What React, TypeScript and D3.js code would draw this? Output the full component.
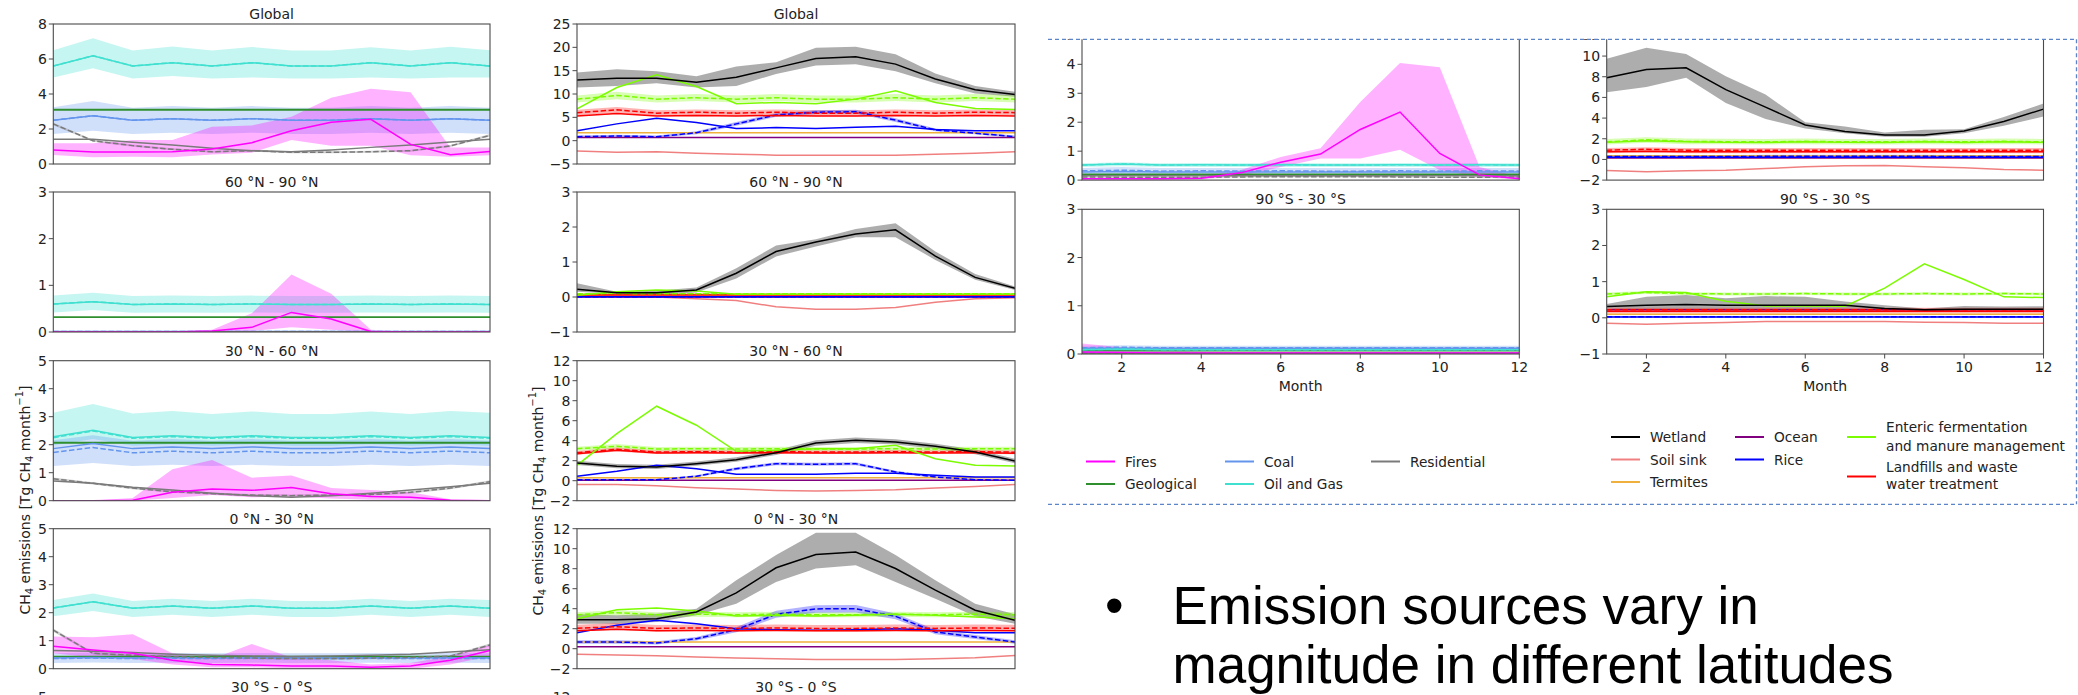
import React from 'react';
import * as d3 from 'd3';

const MONTHS = [1, 2, 3, 4, 5, 6, 7, 8, 9, 10, 11, 12];
const X_TICKS = [2, 4, 6, 8, 10, 12];

const TITLES_AB = ['Global', '60 °N - 90 °N', '30 °N - 60 °N', '0 °N - 30 °N', '30 °S - 0 °S'];
const TITLES_CD = ['', '90 °S - 30 °S'];

// ---------- Figure A (fires, geological, fossil, residential) ----------
// Global
const A0_FIRES = [0.8, 0.69, 0.69, 0.7, 0.86, 1.22, 1.9, 2.38, 2.55, 1.12, 0.53, 0.72];
const A0_FIRES_LO = [0.51, 0.38, 0.42, 0.38, 0.55, 0.65, 1.37, 1.05, 1.05, 0.5, 0.42, 0.5];
const A0_FIRES_HI = [1.18, 1.18, 1.37, 1.37, 2.13, 2.2, 2.7, 3.79, 4.3, 4.1, 0.95, 0.95];
const A0_GEO = [3.1, 3.1, 3.1, 3.1, 3.1, 3.1, 3.1, 3.1, 3.1, 3.1, 3.1, 3.1];
const A0_COAL = [2.5, 2.76, 2.5, 2.59, 2.5, 2.59, 2.5, 2.5, 2.59, 2.5, 2.59, 2.5];
const A0_COAL_D = [2.5, 2.76, 2.5, 2.59, 2.5, 2.59, 2.5, 2.5, 2.59, 2.5, 2.59, 2.5];
const A0_COAL_LO = [1.71, 1.9, 1.71, 1.79, 1.71, 1.79, 1.71, 1.71, 1.79, 1.71, 1.79, 1.71];
const A0_COAL_HI = [3.24, 3.6, 3.22, 3.31, 3.22, 3.31, 3.22, 3.22, 3.31, 3.22, 3.31, 3.22];
const A0_OG = [5.6, 6.19, 5.6, 5.79, 5.6, 5.79, 5.6, 5.6, 5.79, 5.6, 5.79, 5.6];
const A0_OG_D = [5.6, 6.19, 5.6, 5.79, 5.6, 5.79, 5.6, 5.6, 5.79, 5.6, 5.79, 5.6];
const A0_OG_LO = [4.95, 5.47, 4.88, 5.03, 4.88, 4.95, 4.88, 4.88, 4.95, 4.88, 4.95, 4.95];
const A0_OG_HI = [6.5, 7.18, 6.48, 6.72, 6.48, 6.69, 6.48, 6.48, 6.67, 6.48, 6.7, 6.5];
const A0_RES = [1.41, 1.41, 1.24, 1.09, 0.9, 0.76, 0.7, 0.8, 0.95, 1.09, 1.26, 1.41];
const A0_RES_D = [2.29, 1.33, 1.05, 0.84, 0.7, 0.76, 0.67, 0.67, 0.7, 0.76, 1.03, 1.64];
const A0_RES_LO = [2.22, 1.27, 0.99, 0.78, 0.64, 0.7, 0.61, 0.61, 0.64, 0.7, 0.97, 1.57];
const A0_RES_HI = [2.36, 1.39, 1.11, 0.9, 0.76, 0.82, 0.73, 0.73, 0.76, 0.82, 1.09, 1.71];
// 60N-90N
const A1_FIRES = [0, 0, 0, 0, 0.02, 0.1, 0.42, 0.28, 0.01, 0, 0, 0];
const A1_FIRES_LO = [0, 0, 0, 0, 0, 0.02, 0.1, 0.05, 0, 0, 0, 0];
const A1_FIRES_HI = [0, 0, 0, 0, 0.05, 0.4, 1.23, 0.82, 0.05, 0, 0, 0];
const A1_GEO = [0.32, 0.32, 0.32, 0.32, 0.32, 0.32, 0.32, 0.32, 0.32, 0.32, 0.32, 0.32];
const A1_COAL = [0.01, 0.01, 0.01, 0.01, 0.01, 0.01, 0.01, 0.01, 0.01, 0.01, 0.01, 0.01];
const A1_COAL_D = [0.01, 0.01, 0.01, 0.01, 0.01, 0.01, 0.01, 0.01, 0.01, 0.01, 0.01, 0.01];
const A1_COAL_LO = [0, 0, 0, 0, 0, 0, 0, 0, 0, 0, 0, 0];
const A1_COAL_HI = [0.02, 0.02, 0.02, 0.02, 0.02, 0.02, 0.02, 0.02, 0.02, 0.02, 0.02, 0.02];
const A1_OG = [0.6, 0.65, 0.59, 0.6, 0.59, 0.6, 0.59, 0.59, 0.6, 0.59, 0.6, 0.59];
const A1_OG_D = [0.6, 0.65, 0.59, 0.6, 0.59, 0.6, 0.59, 0.59, 0.6, 0.59, 0.6, 0.59];
const A1_OG_LO = [0.42, 0.47, 0.41, 0.42, 0.41, 0.42, 0.41, 0.41, 0.42, 0.41, 0.42, 0.41];
const A1_OG_HI = [0.78, 0.84, 0.77, 0.78, 0.77, 0.78, 0.77, 0.77, 0.78, 0.77, 0.78, 0.77];
const A1_RES = [0.005, 0.005, 0.005, 0.005, 0.005, 0.005, 0.005, 0.005, 0.005, 0.005, 0.005, 0.005];
const A1_RES_D = [0.005, 0.005, 0.005, 0.005, 0.005, 0.005, 0.005, 0.005, 0.005, 0.005, 0.005, 0.005];
const A1_RES_LO = [0, 0, 0, 0, 0, 0, 0, 0, 0, 0, 0, 0];
const A1_RES_HI = [0.01, 0.01, 0.01, 0.01, 0.01, 0.01, 0.01, 0.01, 0.01, 0.01, 0.01, 0.01];
// 30N-60N
const A2_FIRES = [0, 0, 0.02, 0.3, 0.42, 0.37, 0.47, 0.25, 0.15, 0.12, 0.02, 0];
const A2_FIRES_LO = [0, 0, 0, 0.1, 0.2, 0.12, 0.15, 0.08, 0.03, 0.02, 0, 0];
const A2_FIRES_HI = [0, 0.01, 0.1, 1.12, 1.45, 0.82, 0.9, 0.45, 0.38, 0.3, 0.05, 0];
const A2_GEO = [2.07, 2.07, 2.07, 2.07, 2.07, 2.07, 2.07, 2.07, 2.07, 2.07, 2.07, 2.07];
const A2_COAL = [1.86, 2.04, 1.86, 1.92, 1.86, 1.92, 1.86, 1.86, 1.92, 1.86, 1.92, 1.86];
const A2_COAL_D = [1.72, 1.9, 1.71, 1.77, 1.71, 1.77, 1.71, 1.71, 1.77, 1.71, 1.77, 1.71];
const A2_COAL_LO = [1.24, 1.35, 1.24, 1.28, 1.24, 1.28, 1.24, 1.24, 1.28, 1.24, 1.28, 1.24];
const A2_COAL_HI = [2.16, 2.34, 2.14, 2.2, 2.14, 2.2, 2.14, 2.14, 2.2, 2.14, 2.2, 2.14];
const A2_OG = [2.28, 2.52, 2.26, 2.32, 2.26, 2.32, 2.26, 2.26, 2.32, 2.26, 2.32, 2.26];
const A2_OG_D = [2.25, 2.49, 2.23, 2.29, 2.23, 2.29, 2.23, 2.23, 2.29, 2.23, 2.29, 2.23];
const A2_OG_LO = [1.98, 2.2, 1.96, 2.02, 1.96, 2.02, 1.96, 1.96, 2.02, 1.96, 2.02, 1.96];
const A2_OG_HI = [3.14, 3.45, 3.11, 3.2, 3.1, 3.19, 3.1, 3.1, 3.19, 3.1, 3.2, 3.14];
const A2_RES = [0.7, 0.62, 0.48, 0.38, 0.27, 0.18, 0.12, 0.18, 0.27, 0.38, 0.5, 0.62];
const A2_RES_D = [0.78, 0.62, 0.45, 0.32, 0.25, 0.2, 0.18, 0.2, 0.22, 0.3, 0.45, 0.68];
const A2_RES_LO = [0.73, 0.58, 0.41, 0.28, 0.21, 0.16, 0.14, 0.16, 0.18, 0.26, 0.41, 0.63];
const A2_RES_HI = [0.83, 0.66, 0.49, 0.36, 0.29, 0.24, 0.22, 0.24, 0.26, 0.34, 0.49, 0.73];
// 0N-30N
const A3_FIRES = [0.8, 0.67, 0.55, 0.3, 0.15, 0.13, 0.1, 0.1, 0.05, 0.1, 0.3, 0.65];
const A3_FIRES_LO = [0.55, 0.4, 0.35, 0.15, 0.05, 0.05, 0.02, 0, 0, 0, 0.15, 0.45];
const A3_FIRES_HI = [1.15, 1.12, 1.23, 0.55, 0.35, 0.88, 0.4, 0.3, 0.15, 0.2, 0.45, 0.85];
const A3_GEO = [0.43, 0.43, 0.43, 0.43, 0.43, 0.43, 0.43, 0.43, 0.43, 0.43, 0.43, 0.43];
const A3_COAL = [0.38, 0.4, 0.38, 0.39, 0.38, 0.39, 0.38, 0.38, 0.39, 0.38, 0.39, 0.38];
const A3_COAL_D = [0.36, 0.38, 0.36, 0.37, 0.36, 0.37, 0.36, 0.36, 0.37, 0.36, 0.37, 0.36];
const A3_COAL_LO = [0.2, 0.22, 0.2, 0.21, 0.2, 0.21, 0.2, 0.2, 0.21, 0.2, 0.21, 0.2];
const A3_COAL_HI = [0.55, 0.58, 0.55, 0.56, 0.55, 0.56, 0.55, 0.55, 0.56, 0.55, 0.56, 0.55];
const A3_OG = [2.17, 2.39, 2.16, 2.24, 2.16, 2.24, 2.16, 2.16, 2.24, 2.16, 2.24, 2.16];
const A3_OG_D = [2.17, 2.39, 2.16, 2.24, 2.16, 2.24, 2.16, 2.16, 2.24, 2.16, 2.24, 2.16];
const A3_OG_LO = [1.87, 2.06, 1.85, 1.93, 1.85, 1.93, 1.85, 1.85, 1.93, 1.85, 1.93, 1.85];
const A3_OG_HI = [2.45, 2.69, 2.42, 2.5, 2.42, 2.5, 2.42, 2.42, 2.5, 2.42, 2.5, 2.45];
const A3_RES = [0.65, 0.62, 0.58, 0.52, 0.48, 0.45, 0.44, 0.45, 0.48, 0.52, 0.6, 0.68];
const A3_RES_D = [1.38, 0.55, 0.48, 0.43, 0.4, 0.38, 0.36, 0.36, 0.38, 0.4, 0.45, 0.85];
const A3_RES_LO = [1.32, 0.51, 0.44, 0.39, 0.36, 0.34, 0.32, 0.32, 0.34, 0.36, 0.41, 0.8];
const A3_RES_HI = [1.44, 0.59, 0.52, 0.47, 0.44, 0.42, 0.4, 0.4, 0.42, 0.44, 0.49, 0.9];
// 30S-0S
const A4_FIRES = [0.05, 0.05, 0.05, 0.06, 0.25, 0.62, 0.9, 1.75, 2.35, 0.92, 0.18, 0.05];
const A4_FIRES_LO = [0.02, 0.02, 0.02, 0.02, 0.15, 0.45, 0.75, 0.75, 1.05, 0.35, 0.1, 0.02];
const A4_FIRES_HI = [0.08, 0.08, 0.08, 0.1, 0.35, 0.8, 1.1, 2.7, 4.05, 3.9, 0.45, 0.12];
const A4_GEO = [0.2, 0.2, 0.2, 0.2, 0.2, 0.2, 0.2, 0.2, 0.2, 0.2, 0.2, 0.2];
const A4_COAL = [0.28, 0.3, 0.28, 0.28, 0.28, 0.28, 0.28, 0.28, 0.28, 0.28, 0.28, 0.28];
const A4_COAL_D = [0.32, 0.34, 0.31, 0.32, 0.31, 0.32, 0.31, 0.31, 0.32, 0.31, 0.32, 0.31];
const A4_COAL_LO = [0.15, 0.16, 0.15, 0.15, 0.15, 0.15, 0.15, 0.15, 0.15, 0.15, 0.15, 0.15];
const A4_COAL_HI = [0.42, 0.45, 0.42, 0.42, 0.42, 0.42, 0.42, 0.42, 0.42, 0.42, 0.42, 0.42];
const A4_OG = [0.52, 0.56, 0.52, 0.53, 0.52, 0.53, 0.52, 0.52, 0.53, 0.52, 0.53, 0.52];
const A4_OG_D = [0.52, 0.56, 0.52, 0.53, 0.52, 0.53, 0.52, 0.52, 0.53, 0.52, 0.53, 0.52];
const A4_OG_LO = [0.45, 0.48, 0.45, 0.45, 0.45, 0.45, 0.45, 0.45, 0.45, 0.45, 0.45, 0.45];
const A4_OG_HI = [0.58, 0.62, 0.58, 0.59, 0.58, 0.59, 0.58, 0.58, 0.59, 0.58, 0.59, 0.58];
const A4_RES = [0.15, 0.15, 0.15, 0.15, 0.15, 0.15, 0.15, 0.15, 0.15, 0.15, 0.15, 0.15];
const A4_RES_D = [0.11, 0.1, 0.1, 0.1, 0.11, 0.12, 0.12, 0.12, 0.11, 0.1, 0.1, 0.11];
const A4_RES_LO = [0.09, 0.08, 0.08, 0.08, 0.09, 0.1, 0.1, 0.1, 0.09, 0.08, 0.08, 0.09];
const A4_RES_HI = [0.13, 0.12, 0.12, 0.12, 0.13, 0.14, 0.14, 0.14, 0.13, 0.12, 0.12, 0.13];
// 90S-30S
const A5_FIRES = [0.04, 0.03, 0.02, 0.02, 0.02, 0.02, 0.02, 0.02, 0.02, 0.02, 0.02, 0.02];
const A5_FIRES_LO = [0, 0, 0, 0, 0, 0, 0, 0, 0, 0, 0, 0];
const A5_FIRES_HI = [0.22, 0.14, 0.08, 0.05, 0.04, 0.04, 0.04, 0.04, 0.04, 0.04, 0.04, 0.04];
const A5_GEO = [0.07, 0.07, 0.07, 0.07, 0.07, 0.07, 0.07, 0.07, 0.07, 0.07, 0.07, 0.07];
const A5_COAL = [0.12, 0.12, 0.12, 0.12, 0.12, 0.12, 0.12, 0.12, 0.12, 0.12, 0.12, 0.12];
const A5_COAL_D = [0.13, 0.14, 0.13, 0.13, 0.13, 0.13, 0.13, 0.13, 0.13, 0.13, 0.13, 0.13];
const A5_COAL_LO = [0.08, 0.08, 0.08, 0.08, 0.08, 0.08, 0.08, 0.08, 0.08, 0.08, 0.08, 0.08];
const A5_COAL_HI = [0.17, 0.18, 0.17, 0.17, 0.17, 0.17, 0.17, 0.17, 0.17, 0.17, 0.17, 0.17];
const A5_OG = [0.09, 0.1, 0.09, 0.09, 0.09, 0.09, 0.09, 0.09, 0.09, 0.09, 0.09, 0.09];
const A5_OG_D = [0.09, 0.1, 0.09, 0.09, 0.09, 0.09, 0.09, 0.09, 0.09, 0.09, 0.09, 0.09];
const A5_OG_LO = [0.07, 0.08, 0.07, 0.07, 0.07, 0.07, 0.07, 0.07, 0.07, 0.07, 0.07, 0.07];
const A5_OG_HI = [0.11, 0.12, 0.11, 0.11, 0.11, 0.11, 0.11, 0.11, 0.11, 0.11, 0.11, 0.11];
const A5_RES = [0.02, 0.02, 0.02, 0.02, 0.02, 0.02, 0.02, 0.02, 0.02, 0.02, 0.02, 0.02];
const A5_RES_D = [0.02, 0.02, 0.02, 0.02, 0.02, 0.02, 0.02, 0.02, 0.02, 0.02, 0.02, 0.02];
const A5_RES_LO = [0.01, 0.01, 0.01, 0.01, 0.01, 0.01, 0.01, 0.01, 0.01, 0.01, 0.01, 0.01];
const A5_RES_HI = [0.03, 0.03, 0.03, 0.03, 0.03, 0.03, 0.03, 0.03, 0.03, 0.03, 0.03, 0.03];

// ---------- Figure B (wetland, soil, termites, ocean, rice, enteric, landfills) ----------
// Global
const B0_WET = [13.0, 13.4, 13.4, 12.5, 13.6, 15.6, 17.6, 18.0, 16.4, 13.2, 10.9, 9.9];
const B0_WET_LO = [11.4, 11.7, 12.3, 11.4, 11.7, 14.3, 16.1, 16.4, 14.9, 12.3, 10.1, 9.4];
const B0_WET_HI = [14.6, 15.3, 14.9, 13.8, 15.9, 16.8, 19.9, 20.1, 18.5, 14.4, 11.7, 10.5];
const B0_SOIL = [-2.2, -2.5, -2.4, -2.7, -2.9, -3.1, -3.1, -3.1, -3.1, -2.9, -2.7, -2.4];
const B0_TERM = [1.7, 1.7, 1.7, 1.7, 1.7, 1.7, 1.7, 1.7, 1.7, 1.7, 1.7, 1.7];
const B0_OCEAN = [0.7, 0.7, 0.7, 0.7, 0.7, 0.7, 0.7, 0.7, 0.7, 0.7, 0.7, 0.7];
const B0_RICE = [2.1, 3.6, 4.8, 3.9, 2.6, 2.8, 2.6, 2.9, 3.1, 2.4, 2.1, 2.1];
const B0_RICE_D = [0.85, 1.0, 0.85, 1.7, 3.6, 5.5, 6.1, 6.2, 4.4, 2.3, 1.6, 0.85];
const B0_RICE_LO = [0.6, 0.75, 0.6, 1.4, 3.2, 5.1, 5.7, 5.8, 4.0, 2.0, 1.35, 0.6];
const B0_RICE_HI = [1.1, 1.25, 1.1, 2.0, 4.0, 5.9, 6.5, 6.6, 4.8, 2.6, 1.85, 1.1];
const B0_ENT = [6.8, 11.4, 14.1, 11.6, 7.9, 8.2, 7.9, 8.9, 10.7, 8.2, 6.9, 6.7];
const B0_ENT_D = [8.9, 9.7, 8.9, 9.2, 8.9, 9.2, 8.9, 8.9, 9.2, 8.9, 9.2, 8.9];
const B0_ENT_LO = [8.2, 8.9, 8.2, 8.5, 8.2, 8.5, 8.2, 8.2, 8.5, 8.2, 8.5, 8.2];
const B0_ENT_HI = [9.7, 10.5, 9.7, 10.0, 9.7, 10.0, 9.7, 9.7, 10.0, 9.7, 10.0, 9.7];
const B0_LAND = [5.3, 5.8, 5.3, 5.4, 5.3, 5.4, 5.3, 5.3, 5.4, 5.3, 5.4, 5.3];
const B0_LAND_D = [6.0, 6.6, 5.9, 6.1, 5.9, 6.1, 5.9, 5.9, 6.1, 5.9, 6.1, 6.0];
const B0_LAND_LO = [5.4, 6.0, 5.3, 5.5, 5.3, 5.5, 5.3, 5.3, 5.5, 5.3, 5.5, 5.4];
const B0_LAND_HI = [6.6, 7.2, 6.5, 6.7, 6.5, 6.7, 6.5, 6.5, 6.7, 6.5, 6.7, 6.6];
// 60N-90N
const B1_WET = [0.22, 0.12, 0.12, 0.2, 0.68, 1.3, 1.57, 1.8, 1.92, 1.17, 0.56, 0.25];
const B1_WET_LO = [0.15, 0.09, 0.07, 0.13, 0.53, 1.16, 1.44, 1.71, 1.71, 1.06, 0.49, 0.2];
const B1_WET_HI = [0.39, 0.15, 0.18, 0.27, 0.82, 1.47, 1.65, 1.94, 2.11, 1.3, 0.66, 0.3];
const B1_SOIL = [0.03, 0.02, 0, -0.05, -0.1, -0.28, -0.35, -0.35, -0.3, -0.15, -0.05, -0.02];
const B1_TERM = [0.02, 0.02, 0.02, 0.02, 0.02, 0.02, 0.02, 0.02, 0.02, 0.02, 0.02, 0.02];
const B1_OCEAN = [0, 0, 0, 0, 0, 0, 0, 0, 0, 0, 0, 0];
const B1_RICE = [0.01, 0.01, 0.01, 0.01, 0.01, 0.01, 0.01, 0.01, 0.01, 0.01, 0.01, 0.01];
const B1_RICE_D = [0.01, 0.01, 0.01, 0.01, 0.01, 0.01, 0.01, 0.01, 0.01, 0.01, 0.01, 0.01];
const B1_RICE_LO = [0, 0, 0, 0, 0, 0, 0, 0, 0, 0, 0, 0];
const B1_RICE_HI = [0.02, 0.02, 0.02, 0.02, 0.02, 0.02, 0.02, 0.02, 0.02, 0.02, 0.02, 0.02];
const B1_ENT = [0.05, 0.15, 0.2, 0.17, 0.08, 0.08, 0.08, 0.08, 0.08, 0.08, 0.08, 0.08];
const B1_ENT_D = [0.09, 0.1, 0.09, 0.09, 0.09, 0.09, 0.09, 0.09, 0.09, 0.09, 0.09, 0.09];
const B1_ENT_LO = [0.07, 0.08, 0.07, 0.07, 0.07, 0.07, 0.07, 0.07, 0.07, 0.07, 0.07, 0.07];
const B1_ENT_HI = [0.11, 0.12, 0.11, 0.11, 0.11, 0.11, 0.11, 0.11, 0.11, 0.11, 0.11, 0.11];
const B1_LAND = [0.06, 0.06, 0.06, 0.06, 0.06, 0.06, 0.06, 0.06, 0.06, 0.06, 0.06, 0.06];
const B1_LAND_D = [0.08, 0.08, 0.08, 0.08, 0.08, 0.08, 0.08, 0.08, 0.08, 0.08, 0.08, 0.08];
const B1_LAND_LO = [0.05, 0.05, 0.05, 0.05, 0.05, 0.05, 0.05, 0.05, 0.05, 0.05, 0.05, 0.05];
const B1_LAND_HI = [0.1, 0.1, 0.1, 0.1, 0.1, 0.1, 0.1, 0.1, 0.1, 0.1, 0.1, 0.1];
// 30N-60N
const B2_WET = [1.77, 1.44, 1.37, 1.7, 2.1, 2.8, 3.77, 4.04, 3.87, 3.44, 2.87, 1.97];
const B2_WET_LO = [1.57, 1.25, 1.18, 1.5, 1.9, 2.58, 3.5, 3.78, 3.62, 3.2, 2.65, 1.75];
const B2_WET_HI = [2.0, 1.66, 1.6, 1.93, 2.35, 3.05, 4.05, 4.33, 4.15, 3.7, 3.12, 2.2];
const B2_SOIL = [-0.37, -0.37, -0.5, -0.7, -0.83, -0.97, -1.03, -0.97, -0.9, -0.73, -0.57, -0.37];
const B2_TERM = [0.3, 0.3, 0.3, 0.3, 0.3, 0.3, 0.3, 0.3, 0.3, 0.3, 0.3, 0.3];
const B2_OCEAN = [0.05, 0.05, 0.05, 0.05, 0.05, 0.05, 0.05, 0.05, 0.05, 0.05, 0.05, 0.05];
const B2_RICE = [0.44, 0.94, 1.54, 1.2, 0.64, 0.64, 0.64, 0.74, 0.74, 0.54, 0.37, 0.37];
const B2_RICE_D = [0.1, 0.1, 0.1, 0.44, 1.2, 1.7, 1.64, 1.7, 0.87, 0.37, 0.1, 0.04];
const B2_RICE_LO = [0.0, 0.0, 0.0, 0.34, 1.05, 1.55, 1.5, 1.55, 0.75, 0.27, 0.0, -0.04];
const B2_RICE_HI = [0.2, 0.2, 0.2, 0.54, 1.35, 1.85, 1.8, 1.85, 1.0, 0.47, 0.2, 0.12];
const B2_ENT = [1.54, 4.7, 7.45, 5.55, 2.94, 3.04, 3.2, 3.2, 3.54, 2.2, 1.54, 1.47];
const B2_ENT_D = [3.2, 3.44, 3.17, 3.2, 3.17, 3.2, 3.17, 3.17, 3.2, 3.17, 3.2, 3.2];
const B2_ENT_LO = [3.0, 3.22, 2.97, 3.0, 2.97, 3.0, 2.97, 2.97, 3.0, 2.97, 3.0, 3.0];
const B2_ENT_HI = [3.4, 3.66, 3.37, 3.4, 3.37, 3.4, 3.37, 3.37, 3.4, 3.37, 3.4, 3.4];
const B2_LAND = [2.7, 3.04, 2.77, 2.8, 2.77, 2.8, 2.77, 2.77, 2.8, 2.77, 2.8, 2.75];
const B2_LAND_D = [2.8, 3.14, 2.87, 2.9, 2.87, 2.9, 2.87, 2.87, 2.9, 2.87, 2.9, 2.85];
const B2_LAND_LO = [2.6, 2.92, 2.66, 2.7, 2.66, 2.7, 2.66, 2.66, 2.7, 2.66, 2.7, 2.64];
const B2_LAND_HI = [2.97, 3.32, 3.03, 3.07, 3.03, 3.07, 3.03, 3.03, 3.07, 3.03, 3.07, 3.02];
// 0N-30N
const B3_WET = [2.9, 2.9, 3.0, 3.67, 5.58, 8.09, 9.42, 9.66, 8.02, 5.85, 3.85, 2.84];
const B3_WET_LO = [2.5, 2.5, 2.67, 3.34, 4.5, 6.68, 8.02, 8.35, 6.68, 5.0, 3.24, 2.5];
const B3_WET_HI = [3.44, 3.34, 3.5, 4.0, 6.85, 9.36, 11.6, 11.6, 9.36, 6.85, 4.5, 3.44];
const B3_SOIL = [-0.56, -0.63, -0.7, -0.84, -0.94, -1.0, -1.07, -1.07, -1.07, -1.0, -0.9, -0.67];
const B3_TERM = [0.67, 0.67, 0.67, 0.67, 0.67, 0.67, 0.67, 0.67, 0.67, 0.67, 0.67, 0.67];
const B3_OCEAN = [0.2, 0.2, 0.2, 0.2, 0.2, 0.2, 0.2, 0.2, 0.2, 0.2, 0.2, 0.2];
const B3_RICE = [1.6, 2.34, 2.84, 2.5, 2.0, 1.9, 1.84, 1.9, 2.0, 1.84, 1.6, 1.6];
const B3_RICE_D = [0.67, 0.67, 0.57, 1.0, 1.9, 3.44, 3.98, 4.0, 3.24, 1.67, 1.17, 0.67];
const B3_RICE_LO = [0.5, 0.5, 0.42, 0.82, 1.65, 3.1, 3.6, 3.62, 2.95, 1.45, 0.98, 0.5];
const B3_RICE_HI = [0.85, 0.85, 0.74, 1.18, 2.15, 3.8, 4.35, 4.38, 3.52, 1.9, 1.36, 0.85];
const B3_ENT = [3.0, 3.9, 4.07, 3.77, 3.27, 3.34, 3.27, 3.34, 3.44, 3.34, 3.17, 3.0];
const B3_ENT_D = [3.4, 3.6, 3.4, 3.45, 3.4, 3.45, 3.4, 3.4, 3.45, 3.4, 3.45, 3.4];
const B3_ENT_LO = [3.15, 3.35, 3.15, 3.2, 3.15, 3.2, 3.15, 3.15, 3.2, 3.15, 3.2, 3.15];
const B3_ENT_HI = [3.65, 3.85, 3.65, 3.7, 3.65, 3.7, 3.65, 3.65, 3.7, 3.65, 3.7, 3.65];
const B3_LAND = [1.8, 1.95, 1.8, 1.82, 1.8, 1.82, 1.8, 1.8, 1.82, 1.8, 1.82, 1.8];
const B3_LAND_D = [2.05, 2.2, 2.03, 2.07, 2.03, 2.07, 2.03, 2.03, 2.07, 2.03, 2.07, 2.05];
const B3_LAND_LO = [1.75, 1.88, 1.73, 1.77, 1.73, 1.77, 1.73, 1.73, 1.77, 1.73, 1.77, 1.75];
const B3_LAND_HI = [2.4, 2.56, 2.38, 2.42, 2.38, 2.42, 2.38, 2.38, 2.42, 2.38, 2.42, 2.4];
// 30S-0S
const B4_WET = [7.9, 8.7, 8.86, 6.75, 5.06, 3.34, 2.7, 2.37, 2.37, 2.76, 3.67, 4.87];
const B4_WET_LO = [6.5, 7.0, 7.9, 5.45, 3.9, 3.0, 2.53, 2.2, 2.2, 2.53, 3.25, 4.15];
const B4_WET_HI = [9.74, 10.8, 10.2, 8.05, 6.27, 3.6, 3.18, 2.6, 2.86, 2.92, 4.1, 5.4];
const B4_SOIL = [-1.07, -1.2, -1.1, -1.04, -0.88, -0.71, -0.62, -0.58, -0.71, -0.81, -0.97, -1.04];
const B4_TERM = [0.35, 0.35, 0.35, 0.35, 0.35, 0.35, 0.35, 0.35, 0.35, 0.35, 0.35, 0.35];
const B4_OCEAN = [0.15, 0.15, 0.15, 0.15, 0.15, 0.15, 0.15, 0.15, 0.15, 0.15, 0.15, 0.15];
const B4_RICE = [0.22, 0.22, 0.22, 0.22, 0.22, 0.22, 0.22, 0.22, 0.22, 0.22, 0.22, 0.22];
const B4_RICE_D = [0.28, 0.28, 0.28, 0.28, 0.3, 0.3, 0.3, 0.3, 0.3, 0.28, 0.28, 0.28];
const B4_RICE_LO = [0.14, 0.14, 0.14, 0.14, 0.15, 0.15, 0.15, 0.15, 0.15, 0.14, 0.14, 0.14];
const B4_RICE_HI = [0.42, 0.42, 0.42, 0.42, 0.45, 0.45, 0.45, 0.45, 0.45, 0.42, 0.42, 0.42];
const B4_ENT = [1.65, 1.8, 1.7, 1.65, 1.65, 1.7, 1.65, 1.65, 1.7, 1.65, 1.7, 1.65];
const B4_ENT_D = [1.7, 1.9, 1.75, 1.72, 1.7, 1.75, 1.7, 1.7, 1.75, 1.7, 1.75, 1.7];
const B4_ENT_LO = [1.45, 1.62, 1.48, 1.46, 1.45, 1.48, 1.45, 1.45, 1.48, 1.45, 1.48, 1.45];
const B4_ENT_HI = [1.98, 2.15, 2.02, 1.99, 1.98, 2.02, 1.98, 1.98, 2.02, 1.98, 2.02, 1.98];
const B4_LAND = [0.75, 0.8, 0.75, 0.75, 0.75, 0.75, 0.75, 0.75, 0.75, 0.75, 0.75, 0.75];
const B4_LAND_D = [0.9, 0.98, 0.9, 0.9, 0.9, 0.9, 0.9, 0.9, 0.9, 0.9, 0.9, 0.9];
const B4_LAND_LO = [0.6, 0.66, 0.6, 0.6, 0.6, 0.6, 0.6, 0.6, 0.6, 0.6, 0.6, 0.6];
const B4_LAND_HI = [1.1, 1.18, 1.1, 1.1, 1.1, 1.1, 1.1, 1.1, 1.1, 1.1, 1.1, 1.1];
// 90S-30S
const B5_WET = [0.31, 0.35, 0.37, 0.35, 0.35, 0.35, 0.35, 0.26, 0.22, 0.24, 0.24, 0.24];
const B5_WET_LO = [0.25, 0.22, 0.2, 0.2, 0.2, 0.2, 0.2, 0.2, 0.18, 0.2, 0.2, 0.2];
const B5_WET_HI = [0.38, 0.58, 0.63, 0.54, 0.6, 0.58, 0.45, 0.35, 0.26, 0.33, 0.31, 0.32];
const B5_SOIL = [-0.15, -0.18, -0.15, -0.13, -0.1, -0.1, -0.1, -0.1, -0.12, -0.13, -0.15, -0.15];
const B5_TERM = [0.1, 0.1, 0.1, 0.1, 0.1, 0.1, 0.1, 0.1, 0.1, 0.1, 0.1, 0.1];
const B5_OCEAN = [0.22, 0.22, 0.22, 0.22, 0.22, 0.22, 0.22, 0.22, 0.22, 0.22, 0.22, 0.22];
const B5_RICE = [0.02, 0.02, 0.02, 0.02, 0.02, 0.02, 0.02, 0.02, 0.02, 0.02, 0.02, 0.02];
const B5_RICE_D = [0.03, 0.03, 0.03, 0.03, 0.03, 0.03, 0.03, 0.03, 0.03, 0.03, 0.03, 0.03];
const B5_RICE_LO = [0.01, 0.01, 0.01, 0.01, 0.01, 0.01, 0.01, 0.01, 0.01, 0.01, 0.01, 0.01];
const B5_RICE_HI = [0.05, 0.05, 0.05, 0.05, 0.05, 0.05, 0.05, 0.05, 0.05, 0.05, 0.05, 0.05];
const B5_ENT = [0.58, 0.72, 0.7, 0.46, 0.33, 0.33, 0.32, 0.82, 1.49, 1.06, 0.58, 0.56];
const B5_ENT_D = [0.66, 0.7, 0.67, 0.66, 0.66, 0.67, 0.66, 0.66, 0.67, 0.66, 0.67, 0.66];
const B5_ENT_LO = [0.62, 0.66, 0.63, 0.62, 0.62, 0.63, 0.62, 0.62, 0.63, 0.62, 0.63, 0.62];
const B5_ENT_HI = [0.7, 0.74, 0.71, 0.7, 0.7, 0.71, 0.7, 0.7, 0.71, 0.7, 0.71, 0.7];
const B5_LAND = [0.18, 0.18, 0.18, 0.18, 0.18, 0.18, 0.18, 0.18, 0.18, 0.18, 0.18, 0.18];
const B5_LAND_D = [0.22, 0.22, 0.22, 0.22, 0.22, 0.22, 0.22, 0.22, 0.22, 0.22, 0.22, 0.22];
const B5_LAND_LO = [0.12, 0.12, 0.12, 0.12, 0.12, 0.12, 0.12, 0.12, 0.12, 0.12, 0.12, 0.12];
const B5_LAND_HI = [0.28, 0.28, 0.28, 0.28, 0.28, 0.28, 0.28, 0.28, 0.28, 0.28, 0.28, 0.28];

// Y axes
const A_DOMAINS: [number, number][] = [[0, 8], [0, 3], [0, 5], [0, 5], [0, 5], [0, 3]];
const A_TICKS = [[0, 2, 4, 6, 8], [0, 1, 2, 3], [0, 1, 2, 3, 4, 5], [0, 1, 2, 3, 4, 5], [0, 1, 2, 3, 4, 5], [0, 1, 2, 3]];
const B_DOMAINS: [number, number][] = [[-5, 25], [-1, 3], [-2, 12], [-2, 12], [-2, 12], [-1, 3]];
const B_TICKS = [[-5, 0, 5, 10, 15, 20, 25], [-1, 0, 1, 2, 3], [-2, 0, 2, 4, 6, 8, 10, 12], [-2, 0, 2, 4, 6, 8, 10, 12], [-2, 0, 2, 4, 6, 8, 10, 12], [-1, 0, 1, 2, 3]];

const LEGEND_A = ['Fires', 'Geological', 'Coal', 'Oil and Gas', 'Residential'];
const LEGEND_B = ['Wetland', 'Soil sink', 'Termites', 'Ocean', 'Rice'];
const LEGEND_B_ENT = ['Enteric fermentation', 'and manure management'];
const LEGEND_B_LAND = ['Landfills and waste', 'water treatment'];
const BULLET_LINES = ['Emission sources vary in', 'magnitude in different latitudes'];

// colours
const C = {
  fires: '#ff00ff', geo: '#2f8f2f', coal: '#6495ed', og: '#40e0d0', res: '#7a7a7a',
  wet: '#000000', soil: '#f08080', term: '#f0b03c', ocean: '#800080', rice: '#0000ff', ent: '#7cfc00', land: '#ff0000',
};

type Mark =
  | { kind: 'area'; lo: number[]; hi: number[]; fill: string; op: number }
  | { kind: 'line'; v: number[]; color: string; dash?: boolean; w?: number };

function marksA(f: number[], fl: number[], fh: number[], g: number[], c: number[], cd: number[], cl: number[], ch: number[],
  o: number[], od: number[], ol: number[], oh: number[], r: number[], rd: number[], rl: number[], rh: number[]): Mark[] {
  return [
    { kind: 'area', lo: ol, hi: oh, fill: C.og, op: 0.3 },
    { kind: 'area', lo: cl, hi: ch, fill: C.coal, op: 0.3 },
    { kind: 'area', lo: rl, hi: rh, fill: C.res, op: 0.35 },
    { kind: 'area', lo: fl, hi: fh, fill: C.fires, op: 0.3 },
    { kind: 'line', v: g, color: C.geo, w: 1.8 },
    { kind: 'line', v: c, color: C.coal },
    { kind: 'line', v: cd, color: C.coal, dash: true },
    { kind: 'line', v: o, color: C.og },
    { kind: 'line', v: od, color: C.og, dash: true },
    { kind: 'line', v: r, color: C.res },
    { kind: 'line', v: rd, color: C.res, dash: true },
    { kind: 'line', v: f, color: C.fires },
  ];
}

function marksB(w: number[], wl: number[], wh: number[], s: number[], t: number[], oc: number[],
  ri: number[], rid: number[], ril: number[], rih: number[], e: number[], ed: number[], el: number[], eh: number[],
  l: number[], ld: number[], ll: number[], lh: number[]): Mark[] {
  return [
    { kind: 'area', lo: wl, hi: wh, fill: '#000000', op: 0.32 },
    { kind: 'area', lo: el, hi: eh, fill: C.ent, op: 0.3 },
    { kind: 'area', lo: ll, hi: lh, fill: C.land, op: 0.3 },
    { kind: 'area', lo: ril, hi: rih, fill: C.rice, op: 0.3 },
    { kind: 'line', v: s, color: C.soil },
    { kind: 'line', v: t, color: C.term },
    { kind: 'line', v: oc, color: C.ocean },
    { kind: 'line', v: ri, color: C.rice },
    { kind: 'line', v: rid, color: C.rice, dash: true },
    { kind: 'line', v: l, color: C.land },
    { kind: 'line', v: ld, color: C.land, dash: true },
    { kind: 'line', v: e, color: C.ent },
    { kind: 'line', v: ed, color: C.ent, dash: true },
    { kind: 'line', v: w, color: C.wet },
  ];
}

const A_MARKS = [
  marksA(A0_FIRES, A0_FIRES_LO, A0_FIRES_HI, A0_GEO, A0_COAL, A0_COAL_D, A0_COAL_LO, A0_COAL_HI, A0_OG, A0_OG_D, A0_OG_LO, A0_OG_HI, A0_RES, A0_RES_D, A0_RES_LO, A0_RES_HI),
  marksA(A1_FIRES, A1_FIRES_LO, A1_FIRES_HI, A1_GEO, A1_COAL, A1_COAL_D, A1_COAL_LO, A1_COAL_HI, A1_OG, A1_OG_D, A1_OG_LO, A1_OG_HI, A1_RES, A1_RES_D, A1_RES_LO, A1_RES_HI),
  marksA(A2_FIRES, A2_FIRES_LO, A2_FIRES_HI, A2_GEO, A2_COAL, A2_COAL_D, A2_COAL_LO, A2_COAL_HI, A2_OG, A2_OG_D, A2_OG_LO, A2_OG_HI, A2_RES, A2_RES_D, A2_RES_LO, A2_RES_HI),
  marksA(A3_FIRES, A3_FIRES_LO, A3_FIRES_HI, A3_GEO, A3_COAL, A3_COAL_D, A3_COAL_LO, A3_COAL_HI, A3_OG, A3_OG_D, A3_OG_LO, A3_OG_HI, A3_RES, A3_RES_D, A3_RES_LO, A3_RES_HI),
  marksA(A4_FIRES, A4_FIRES_LO, A4_FIRES_HI, A4_GEO, A4_COAL, A4_COAL_D, A4_COAL_LO, A4_COAL_HI, A4_OG, A4_OG_D, A4_OG_LO, A4_OG_HI, A4_RES, A4_RES_D, A4_RES_LO, A4_RES_HI),
  marksA(A5_FIRES, A5_FIRES_LO, A5_FIRES_HI, A5_GEO, A5_COAL, A5_COAL_D, A5_COAL_LO, A5_COAL_HI, A5_OG, A5_OG_D, A5_OG_LO, A5_OG_HI, A5_RES, A5_RES_D, A5_RES_LO, A5_RES_HI),
];
const B_MARKS = [
  marksB(B0_WET, B0_WET_LO, B0_WET_HI, B0_SOIL, B0_TERM, B0_OCEAN, B0_RICE, B0_RICE_D, B0_RICE_LO, B0_RICE_HI, B0_ENT, B0_ENT_D, B0_ENT_LO, B0_ENT_HI, B0_LAND, B0_LAND_D, B0_LAND_LO, B0_LAND_HI),
  marksB(B1_WET, B1_WET_LO, B1_WET_HI, B1_SOIL, B1_TERM, B1_OCEAN, B1_RICE, B1_RICE_D, B1_RICE_LO, B1_RICE_HI, B1_ENT, B1_ENT_D, B1_ENT_LO, B1_ENT_HI, B1_LAND, B1_LAND_D, B1_LAND_LO, B1_LAND_HI),
  marksB(B2_WET, B2_WET_LO, B2_WET_HI, B2_SOIL, B2_TERM, B2_OCEAN, B2_RICE, B2_RICE_D, B2_RICE_LO, B2_RICE_HI, B2_ENT, B2_ENT_D, B2_ENT_LO, B2_ENT_HI, B2_LAND, B2_LAND_D, B2_LAND_LO, B2_LAND_HI),
  marksB(B3_WET, B3_WET_LO, B3_WET_HI, B3_SOIL, B3_TERM, B3_OCEAN, B3_RICE, B3_RICE_D, B3_RICE_LO, B3_RICE_HI, B3_ENT, B3_ENT_D, B3_ENT_LO, B3_ENT_HI, B3_LAND, B3_LAND_D, B3_LAND_LO, B3_LAND_HI),
  marksB(B4_WET, B4_WET_LO, B4_WET_HI, B4_SOIL, B4_TERM, B4_OCEAN, B4_RICE, B4_RICE_D, B4_RICE_LO, B4_RICE_HI, B4_ENT, B4_ENT_D, B4_ENT_LO, B4_ENT_HI, B4_LAND, B4_LAND_D, B4_LAND_LO, B4_LAND_HI),
  marksB(B5_WET, B5_WET_LO, B5_WET_HI, B5_SOIL, B5_TERM, B5_OCEAN, B5_RICE, B5_RICE_D, B5_RICE_LO, B5_RICE_HI, B5_ENT, B5_ENT_D, B5_ENT_LO, B5_ENT_HI, B5_LAND, B5_LAND_D, B5_LAND_LO, B5_LAND_HI),
];

const FONT = 'DejaVu Sans, sans-serif';
const FS = 14;

type PanelProps = {
  id: string; x0: number; x1: number; top: number; h: number;
  domain: [number, number]; ticks: number[]; marks: Mark[];
  title?: string; xAxis?: boolean;
};

function Panel({ id, x0, x1, top, h, domain, ticks, marks, title, xAxis }: PanelProps) {
  const x = d3.scaleLinear().domain([1, 12]).range([x0, x1]);
  const y = d3.scaleLinear().domain(domain).range([top + h, top]);
  const line = d3.line<number>().x((_, i) => x(MONTHS[i])).y((d) => y(d));
  const cx = (x0 + x1) / 2;
  return (
    <g>
      <defs>
        <clipPath id={id}>
          <rect x={x0} y={top} width={x1 - x0} height={h} />
        </clipPath>
      </defs>
      <g clipPath={`url(#${id})`}>
        {marks.map((m, k) => {
          if (m.kind === 'area') {
            const area = d3.area<number>()
              .x((_, i) => x(MONTHS[i]))
              .y0((_, i) => y(m.lo[i]))
              .y1((_, i) => y(m.hi[i]));
            return <path key={k} d={area(m.hi) || ''} fill={m.fill} fillOpacity={m.op} stroke="none" />;
          }
          return (
            <path key={k} d={line(m.v) || ''} fill="none" stroke={m.color} strokeWidth={m.w ?? 1.5}
              strokeDasharray={m.dash ? '5.5 2.4' : undefined} />
          );
        })}
      </g>
      <rect x={x0} y={top} width={x1 - x0} height={h} fill="none" stroke="#4a4a4a" strokeWidth={1.1} />
      {ticks.map((t) => (
        <g key={t}>
          <line x1={x0 - 4.5} x2={x0} y1={y(t)} y2={y(t)} stroke="#4a4a4a" strokeWidth={1} />
          <text x={x0 - 6.5} y={y(t)} textAnchor="end" dominantBaseline="central" fontFamily={FONT} fontSize={FS} fill="#222">
            {t < 0 ? `\u2212${Math.abs(t)}` : t}
          </text>
        </g>
      ))}
      {title && (
        <text x={cx} y={top - 10} textAnchor="middle" dominantBaseline="central" fontFamily={FONT} fontSize={FS} fill="#222">
          {title}
        </text>
      )}
      {xAxis && X_TICKS.map((t) => (
        <g key={`x${t}`}>
          <line x1={x(t)} x2={x(t)} y1={top + h} y2={top + h + 4.5} stroke="#4a4a4a" strokeWidth={1} />
          <text x={x(t)} y={top + h + 13} textAnchor="middle" dominantBaseline="central" fontFamily={FONT} fontSize={FS} fill="#222">
            {t}
          </text>
        </g>
      ))}
      {xAxis && (
        <text x={cx} y={top + h + 32} textAnchor="middle" dominantBaseline="central" fontFamily={FONT} fontSize={FS} fill="#222">
          Month
        </text>
      )}
    </g>
  );
}

function YLabel({ x, y }: { x: number; y: number }) {
  return (
    <text transform={`translate(${x},${y}) rotate(-90)`} textAnchor="middle" dominantBaseline="central"
      fontFamily={FONT} fontSize={FS} fill="#222">
      CH<tspan fontSize={10} dy={4}>4</tspan>
      <tspan dy={-4}> emissions [Tg CH</tspan>
      <tspan fontSize={10} dy={4}>4</tspan>
      <tspan dy={-4}> month</tspan>
      <tspan fontSize={10} dy={-6}>−1</tspan>
      <tspan dy={6}>]</tspan>
    </text>
  );
}

function LegendItem({ x, y, color, label }: { x: number; y: number; color: string; label: string }) {
  return (
    <g>
      <line x1={x} x2={x + 29} y1={y} y2={y} stroke={color} strokeWidth={2} />
      <text x={x + 39} y={y} dominantBaseline="central" fontFamily={FONT} fontSize={13.7} fill="#222">{label}</text>
    </g>
  );
}

export default function App() {
  const topsAB = [24, 192, 360.7, 528.7, 696.7];
  const hAB = 140;
  const topsCD = [35.4, 209.3];
  const hCD = 144.7;
  const colA = { x0: 53.3, x1: 490 };
  const colB = { x0: 577, x1: 1015 };
  const colC = { x0: 1082, x1: 1519.3 };
  const colD = { x0: 1606.7, x1: 2043.5 };
  const legendAColors = [C.fires, C.geo, C.coal, C.og, C.res];
  const legendAPos = [[1086, 461.5], [1086, 484], [1225, 461.5], [1225, 484], [1371, 461.5]];
  const legendBColors = [C.wet, C.soil, C.term, C.ocean, C.rice];
  const legendBPos = [[1611, 437], [1611, 459.5], [1611, 482], [1735, 437], [1735, 459.5]];

  return (
    <svg width={2078} height={695} style={{ position: 'absolute', left: 0, top: 0, background: '#fff' }}>
      <rect x={0} y={0} width={2078} height={695} fill="#fff" />
      {/* Figure A (left column) */}
      {topsAB.map((t, i) => (
        <Panel key={`a${i}`} id={`ca${i}`} {...colA} top={t} h={hAB} domain={A_DOMAINS[i]} ticks={A_TICKS[i]}
          marks={A_MARKS[i]} title={TITLES_AB[i]} />
      ))}
      <YLabel x={25} y={500} />
      {/* Figure B (middle column) */}
      {topsAB.map((t, i) => (
        <Panel key={`b${i}`} id={`cb${i}`} {...colB} top={t} h={hAB} domain={B_DOMAINS[i]} ticks={B_TICKS[i]}
          marks={B_MARKS[i]} title={TITLES_AB[i]} />
      ))}
      <YLabel x={538} y={501} />
      {/* Right side: southern panels, cropped at the top */}
      <defs>
        <clipPath id="rightclip">
          <rect x={1040} y={39.3} width={1038} height={660} />
        </clipPath>
      </defs>
      <g clipPath="url(#rightclip)">
        {topsCD.map((t, i) => (
          <Panel key={`c${i}`} id={`cc${i}`} {...colC} top={t} h={hCD} domain={A_DOMAINS[4 + i]} ticks={A_TICKS[4 + i]}
            marks={A_MARKS[4 + i]} title={TITLES_CD[i] || undefined} xAxis={i === 1} />
        ))}
        {topsCD.map((t, i) => (
          <Panel key={`d${i}`} id={`cd${i}`} {...colD} top={t} h={hCD} domain={B_DOMAINS[4 + i]} ticks={B_TICKS[4 + i]}
            marks={B_MARKS[4 + i]} title={TITLES_CD[i] || undefined} xAxis={i === 1} />
        ))}
      </g>
      {/* Legends */}
      {LEGEND_A.map((lab, i) => (
        <LegendItem key={lab} x={legendAPos[i][0]} y={legendAPos[i][1]} color={legendAColors[i]} label={lab} />
      ))}
      {LEGEND_B.map((lab, i) => (
        <LegendItem key={lab} x={legendBPos[i][0]} y={legendBPos[i][1]} color={legendBColors[i]} label={lab} />
      ))}
      <line x1={1847} x2={1876} y1={437} y2={437} stroke={C.ent} strokeWidth={2} />
      {LEGEND_B_ENT.map((s, i) => (
        <text key={s} x={1886} y={427 + i * 18.5} dominantBaseline="central" fontFamily={FONT} fontSize={13.7} fill="#222">{s}</text>
      ))}
      <line x1={1847} x2={1876} y1={476.5} y2={476.5} stroke={C.land} strokeWidth={2} />
      {LEGEND_B_LAND.map((s, i) => (
        <text key={s} x={1886} y={467 + i * 17} dominantBaseline="central" fontFamily={FONT} fontSize={13.7} fill="#222">{s}</text>
      ))}
      {/* dashed frame */}
      <g stroke="#5b85c9" strokeWidth={1.3} strokeDasharray="4 3" fill="none">
        <line x1={1048} x2={2076.5} y1={39.3} y2={39.3} />
        <line x1={1048} x2={2076.5} y1={504.3} y2={504.3} />
        <line x1={2076.5} x2={2076.5} y1={39.3} y2={504.3} />
      </g>
      {/* bullet text */}
      <text x={1105} y={624} fontFamily="Liberation Sans, Arial, sans-serif" fontSize={53} fill="#000">•</text>
      {BULLET_LINES.map((s, i) => (
        <text key={s} x={1172.5} y={624 + i * 59} fontFamily="Liberation Sans, Arial, sans-serif" fontSize={53} fill="#000">{s}</text>
      ))}
    </svg>
  );
}
